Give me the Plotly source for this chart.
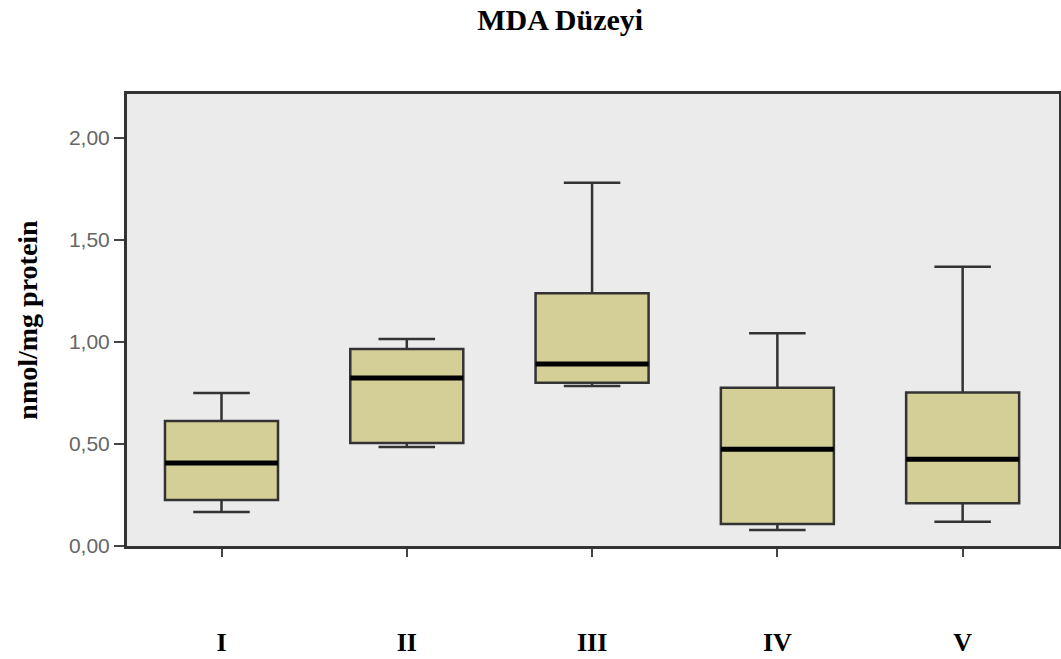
import plotly.graph_objects as go

groups = ["I", "II", "III", "IV", "V"]
lower_whisker = [0.167, 0.485, 0.784, 0.078, 0.119]
q1_vals = [0.225, 0.505, 0.800, 0.108, 0.209]
median_vals = [0.407, 0.824, 0.892, 0.474, 0.425]
q3_vals = [0.613, 0.966, 1.239, 0.776, 0.752]
upper_whisker = [0.750, 1.015, 1.781, 1.043, 1.369]
y_tick_vals = [0.0, 0.5, 1.0, 1.5, 2.0]
y_tick_text = ["0,00", "0,50", "1,00", "1,50", "2,00"]

positions = list(range(len(groups)))
box_w = 0.61

fig = go.Figure()
fig.add_trace(go.Box(
    x=positions,
    q1=q1_vals, median=median_vals, q3=q3_vals,
    lowerfence=lower_whisker, upperfence=upper_whisker,
    width=box_w, whiskerwidth=0.5,
    fillcolor="rgb(212,207,150)",
    line=dict(color="#333333", width=2.5),
    boxpoints=False, showlegend=False, hoverinfo="skip",
))

for p, m in zip(positions, median_vals):
    fig.add_shape(type="line", xref="x", yref="y",
                  x0=p - box_w / 2, x1=p + box_w / 2, y0=m, y1=m,
                  line=dict(color="black", width=5))

fig.update_layout(
    width=1061, height=659,
    margin=dict(l=127, r=2, t=94, b=113),
    paper_bgcolor="white",
    plot_bgcolor="rgb(235,235,235)",
    title=dict(text="<b>MDA Düzeyi</b>", x=0.528, xref="container", y=0.97, yref="container",
               xanchor="center", yanchor="middle",
               font=dict(family="Liberation Serif", size=30, color="black")),
    xaxis=dict(
        range=[-0.51, 4.52], tickvals=positions,
        ticktext=["<b>%s</b>" % g for g in groups],
        ticks="outside", ticklen=8, tickwidth=2, tickcolor="#444",
        ticklabelstandoff=63, automargin=False,
        tickfont=dict(family="Liberation Serif", size=26, color="black"),
        showline=True, linecolor="#333", linewidth=3, mirror=True,
        showgrid=False, zeroline=False,
    ),
    yaxis=dict(
        range=[0, 2.216], tickvals=y_tick_vals, ticktext=y_tick_text,
        ticks="outside", ticklen=10, tickwidth=2, tickcolor="#444",
        tickfont=dict(family="Liberation Sans", size=21, color="#666"),
        showline=True, linecolor="#333", linewidth=3, mirror=True,
        showgrid=False, zeroline=False, automargin=False,
        title=dict(text="<b>nmol/mg protein</b>", standoff=24,
                   font=dict(family="Liberation Serif", size=28, color="black")),
    ),
)

fig.write_html("out.html", config={"displayModeBar": False},
               post_script="document.body.style.margin='0';document.body.style.overflow='hidden';")
